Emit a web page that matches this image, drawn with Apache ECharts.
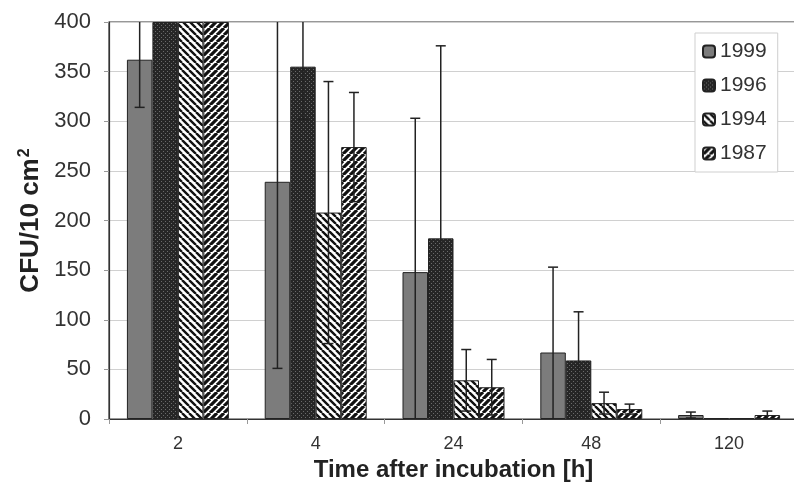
<!DOCTYPE html>
<html>
<head>
<meta charset="utf-8">
<script src="https://cdn.jsdelivr.net/npm/echarts@6/dist/echarts.min.js"></script>
<style>
  html, body { margin: 0; padding: 0; background: #fff; }
  #chart { width: 794px; height: 490px; }
</style>
</head>
<body>
<div id="chart"></div>
<script>
// data
const hours = ["2", "4", "24", "48", "120"];
const years = ["1999", "1996", "1994", "1987"];
const cfu1999 = [362, 239, 148, 67, 4];
const cfu1996 = [400, 355, 182, 59, 1];
const cfu1994 = [400, 208, 39, 16, 1];
const cfu1987 = [400, 274, 32, 10, 4];
const err1999 = [48, 188, 155, 86, 3];
const err1996 = [0, 53, 194, 49, 0];
const err1994 = [0, 132, 31, 11, 0];
const err1987 = [0, 55, 28, 5, 4];
const yTicks = [0, 50, 100, 150, 200, 250, 300, 350, 400];

const values = [cfu1999, cfu1996, cfu1994, cfu1987];
const errors = [err1999, err1996, err1994, err1987];
const gapRatio = 0.26;

function makePattern(kind) {
  const c = document.createElement("canvas");
  const s = kind === "dots" ? 4 : 7;
  c.width = s; c.height = s;
  const g = c.getContext("2d");
  if (kind === "dots") {
    g.fillStyle = "#262626";
    g.fillRect(0, 0, s, s);
    g.fillStyle = "#6a6a6a";
    g.fillRect(1, 1, 1, 1);
    g.fillRect(3, 3, 1, 1);
    return c;
  }
  g.fillStyle = "#fff";
  g.fillRect(0, 0, s, s);
  g.strokeStyle = "#111";
  g.lineWidth = kind === "fwd" ? 3.2 : 2.4;
  g.beginPath();
  if (kind === "back") {
    for (let k = -1; k <= 1; k++) {
      g.moveTo(k * s, 0); g.lineTo(k * s + s, s);
    }
  } else {
    for (let k = -1; k <= 1; k++) {
      g.moveTo(k * s, s); g.lineTo(k * s + s, 0);
    }
  }
  g.stroke();
  return c;
}

const fills = [
  "#7c7c7c",
  { image: makePattern("dots"), repeat: "repeat" },
  { image: makePattern("back"), repeat: "repeat" },
  { image: makePattern("fwd"), repeat: "repeat" }
];

const barSeries = years.map((y, s) => ({
  name: y,
  type: "bar",
  data: values[s],
  barGap: "0%",
  barCategoryGap: (gapRatio * 100) + "%",
  itemStyle: { color: fills[s], borderColor: "#222", borderWidth: 1 },
  emphasis: { disabled: true },
  animation: false
}));

const errData = [];
years.forEach((y, s) => {
  hours.forEach((h, i) => {
    errData.push([i, values[s][i], errors[s][i], s]);
  });
});

const chart = echarts.init(document.getElementById("chart"));
chart.setOption({
  backgroundColor: "#fff",
  animation: false,
  textStyle: { fontFamily: "Liberation Sans, Arial, sans-serif" },
  grid: {
    left: 109, width: 689, top: 22, bottom: 71,
    outerBoundsMode: "none",
    containLabel: false,
    show: true, borderColor: "#333", borderWidth: 1.2,
    backgroundColor: "transparent"
  },
  legend: {
    orient: "vertical",
    left: 695, top: 33,
    padding: [8, 11, 8, 7],
    itemGap: 13,
    itemWidth: 12, itemHeight: 12,
    borderColor: "#cfcfcf", borderWidth: 1,
    backgroundColor: "#fff",
    data: years,
    textStyle: { fontSize: 21, color: "#333", fontFamily: "Liberation Sans, Arial, sans-serif" }
  },
  xAxis: {
    type: "category",
    data: hours,
    name: "Time after incubation [h]",
    nameLocation: "middle",
    nameGap: 39,
    nameTextStyle: { fontSize: 24, fontWeight: "bold", color: "#222" },
    axisLine: { lineStyle: { color: "#333", width: 1.2 } },
    axisTick: { show: true, length: 5, lineStyle: { color: "#999" } },
    axisLabel: { fontSize: 18, color: "#333", margin: 16 }
  },
  yAxis: {
    type: "value",
    min: 0, max: 400, interval: 50,
    name: "CFU/10 cm{sup|2}",
    nameLocation: "middle",
    nameGap: 64,
    nameRotate: 90,
    nameTextStyle: {
      fontSize: 26, fontWeight: "bold", color: "#222",
      rich: {
        sup: { fontSize: 16, fontWeight: "bold", color: "#222", verticalAlign: "top", padding: [0, 0, 12, 1] }
      }
    },
    axisLine: { show: true, lineStyle: { color: "#333", width: 1.2 } },
    axisTick: { show: true, length: 5, lineStyle: { color: "#999" } },
    axisLabel: {
      fontSize: 22, color: "#333", margin: 18,
      formatter: v => (yTicks.indexOf(v) >= 0 ? String(v) : "")
    },
    splitLine: { lineStyle: { color: "#d0d0d0", width: 1 } }
  },
  series: barSeries.concat([{
    type: "custom",
    name: "err",
    data: errData,
    encode: { x: 0, y: 1 },
    z: 5,
    silent: true,
    renderItem(params, api) {
      const cat = api.value(0), val = api.value(1), err = api.value(2), s = api.value(3);
      if (!err) return null;
      const cs = params.coordSys;
      const band = api.size([1, 0])[0];
      const barW = band * (1 - gapRatio) / 4;
      const cx = api.coord([cat, 0])[0] + (s - 1.5) * barW;
      let yTop = api.coord([cat, val + err])[1];
      let yBot = api.coord([cat, Math.max(0, val - err)])[1];
      const topCap = yTop >= cs.y;
      const botCap = val - err > 0;
      yTop = Math.max(yTop, cs.y);
      yBot = Math.min(yBot, cs.y + cs.height);
      const st = { stroke: "#222", lineWidth: 1.5 };
      const kids = [{ type: "line", shape: { x1: cx, y1: yTop, x2: cx, y2: yBot }, style: st }];
      if (topCap) kids.push({ type: "line", shape: { x1: cx - 5, y1: yTop, x2: cx + 5, y2: yTop }, style: st });
      if (botCap) kids.push({ type: "line", shape: { x1: cx - 5, y1: yBot, x2: cx + 5, y2: yBot }, style: st });
      return { type: "group", children: kids };
    }
  }])
});
</script>
</body>
</html>
